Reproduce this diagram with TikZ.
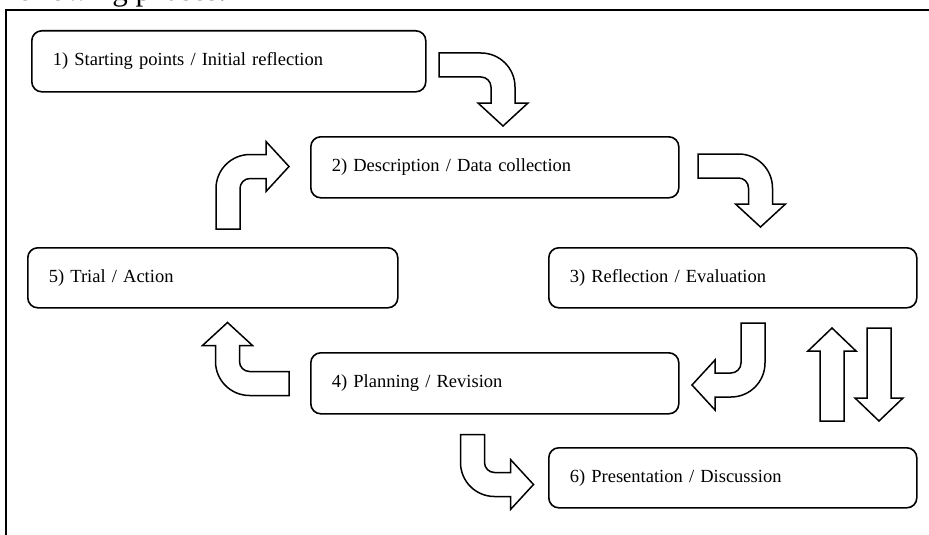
\documentclass[tikz,border=0pt]{standalone}
\usepackage{fontspec}
\setmainfont{Liberation Serif}

% bent block arrow: tail comes in from the left, turns down
\newcommand{\bendarrow}[2]{%
  \begin{scope}[#1]
    \draw[blockarrow] (-#2,-12) -- (-22,-12) arc[start angle=90, end angle=0, radius=34pt]
      -- (12,38) -- (25,38) -- (0,61) -- (-25,38) -- (-12,38) -- (-12,22)
      arc[start angle=0, end angle=90, radius=10pt] -- (-#2,12) -- cycle;
  \end{scope}}

\begin{document}
\begin{tikzpicture}[x=1pt, y=-1pt,
    phase/.style={draw, line width=1.6pt, rounded corners=10pt, align=left, anchor=north west,
      inner xsep=21pt, minimum height=61pt, font=\fontsize{18.5}{22}\selectfont},
    blockarrow/.style={draw, fill=white, line width=1.5pt, line join=miter}]
  \useasboundingbox (0,0) rectangle (929,535);

  \node[anchor=base west, inner sep=0pt, font=\fontsize{31}{36}\selectfont] (head) at (7,0.5) {following phases:};
  \draw[line width=2pt] (6,535) -- (6,10) -- (929,10);

  \node[phase, text width=352pt] (start) at (31,30) {1) Starting points / Initial reflection};
  \node[phase, text width=326pt] (descr) at (310,136) {2) Description / Data collection};
  \node[phase, text width=326pt, minimum height=60pt] (reflect) at (548,247) {3) Reflection / Evaluation};
  \node[phase, text width=326pt] (plan) at (310,352) {4) Planning / Revision};
  \node[phase, text width=328pt, minimum height=60pt] (trial) at (27,247) {5) Trial / Action};
  \node[phase, text width=326pt, minimum height=60pt] (present) at (548,447) {6) Presentation / Discussion};

  \bendarrow{shift={(503,65)}}{64}
  \bendarrow{shift={(760.5,166)}}{62.5}
  \bendarrow{shift={(753,385)}, rotate=-90}{62}
  \bendarrow{shift={(227.5,383.5)}, rotate=180}{61.5}
  \bendarrow{shift={(228,166.5)}, rotate=90}{62.5}
  \bendarrow{shift={(472.5,484.5)}, rotate=90, xscale=-1}{50}

  %straight ones between 3) and 6)
  \draw[blockarrow] (820,421) -- (820,351) -- (808,351) -- (832,328) -- (856,351) -- (844,351) -- (844,421) -- cycle;
  \draw[blockarrow] (867,328) -- (867,398) -- (855,398) -- (879,421) -- (903,398) -- (891,398) -- (891,328) -- cycle;
\end{tikzpicture}
\end{document}
